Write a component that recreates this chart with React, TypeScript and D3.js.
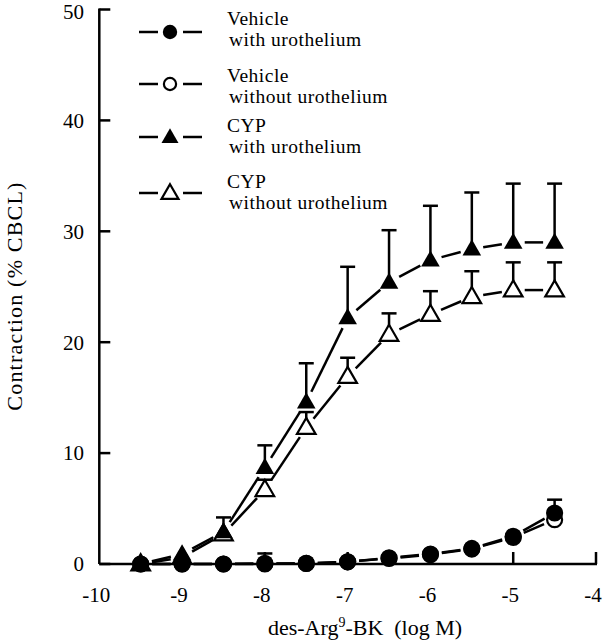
import React from 'react';
import * as d3 from 'd3';

// log concentration of des-Arg9-BK
const doses = [-9.5, -9, -8.5, -8, -7.5, -7, -6.5, -6, -5.5, -5, -4.5];

const vehWith = [0, 0, 0, 0.05, 0.05, 0.2, 0.55, 0.9, 1.4, 2.5, 4.6];
const vehWithSem = [0, 0, 0, 0.9, 0.1, 0.1, 0.2, 0.2, 0.3, 0.4, 1.2];
const vehWithout = [0, 0, 0, 0, 0.05, 0.2, 0.5, 0.85, 1.35, 2.4, 4.0];
const vehWithoutSem = [0, 0, 0, 0, 0, 0.1, 0.2, 0.2, 0.3, 0.4, 0.6];
const cypWith = [0, 0.9, 2.9, 8.7, 14.6, 22.2, 25.4, 27.4, 28.4, 29.0, 29.0];
const cypWithSem = [0.2, 0.3, 1.3, 2.0, 3.5, 4.6, 4.7, 4.9, 5.1, 5.3, 5.3];
const cypWithout = [0, 0.6, 2.7, 6.7, 12.3, 16.9, 20.7, 22.5, 24.1, 24.7, 24.7];
const cypWithoutSem = [0.1, 0.2, 0.8, 0.9, 1.4, 1.7, 1.9, 2.1, 2.3, 2.5, 2.5];

const yTicks = [0, 10, 20, 30, 40, 50];
const xTicks = [-10, -9, -8, -7, -6, -5, -4];

type Marker = 'circleFilled' | 'circleOpen' | 'triFilled' | 'triOpen';

const legendItems: { marker: Marker; line1: string; line2: string }[] = [
  { marker: 'circleFilled', line1: 'Vehicle', line2: 'with urothelium' },
  { marker: 'circleOpen', line1: 'Vehicle', line2: 'without urothelium' },
  { marker: 'triFilled', line1: 'CYP', line2: 'with urothelium' },
  { marker: 'triOpen', line1: 'CYP', line2: 'without urothelium' },
];

// draw order: open markers first so the filled ones sit on top
const series: { marker: Marker; values: number[]; sem: number[] }[] = [
  { marker: 'circleOpen', values: vehWithout, sem: vehWithoutSem },
  { marker: 'triOpen', values: cypWithout, sem: cypWithoutSem },
  { marker: 'circleFilled', values: vehWith, sem: vehWithSem },
  { marker: 'triFilled', values: cypWith, sem: cypWithSem },
];

const W = 603;
const H = 640;
const font = '"Liberation Serif", "Times New Roman", serif';
const SW = 2.5;

const x = d3.scaleLinear().domain([-10, -4]).range([99.3, 596]);
const y = d3.scaleLinear().domain([0, 50]).range([564, 9.5]);

const triPath = d3.symbol().type(d3.symbolTriangle).size(150)() as string;
const triPathSmall = d3.symbol().type(d3.symbolTriangle).size(125)() as string;

const MarkerGlyph: React.FC<{ type: Marker; cx: number; cy: number; small?: boolean }> = ({ type, cx, cy, small }) => {
  const r = small ? 7.2 : 8.6;
  if (type === 'circleFilled') return <circle cx={cx} cy={cy} r={r} fill="#000" />;
  if (type === 'circleOpen') return <circle cx={cx} cy={cy} r={r - 1.1} fill="#fff" stroke="#000" strokeWidth={2.2} />;
  const d = small ? triPathSmall : triPath;
  if (type === 'triFilled') return <path d={d} transform={`translate(${cx},${cy + 1})`} fill="#000" />;
  return <path d={d} transform={`translate(${cx},${cy + 1})`} fill="#fff" stroke="#000" strokeWidth={2.2} strokeLinejoin="miter" />;
};

const App: React.FC = () => {
  const gap = 11.5;

  const segments = (vals: number[]) => {
    const out: { x1: number; y1: number; x2: number; y2: number }[] = [];
    for (let i = 0; i < vals.length - 1; i++) {
      const ax = x(doses[i]), ay = y(vals[i]);
      const bx = x(doses[i + 1]), by = y(vals[i + 1]);
      const len = Math.hypot(bx - ax, by - ay);
      if (len <= gap * 2) continue;
      const ux = (bx - ax) / len, uy = (by - ay) / len;
      out.push({ x1: ax + ux * gap, y1: ay + uy * gap, x2: bx - ux * gap, y2: by - uy * gap });
    }
    return out;
  };

  return (
    <div style={{ position: 'absolute', left: 0, top: 0 }}>
      <svg width={W} height={H} style={{ display: 'block', background: '#fff' }} fontFamily={font}>
        {/* axes */}
        <line x1={x(-10)} x2={x(-10)} y1={y(50) - 1} y2={y(0)} stroke="#000" strokeWidth={SW} />
        <line x1={x(-10)} x2={x(-4) + 1} y1={y(0)} y2={y(0)} stroke="#000" strokeWidth={SW} />
        {yTicks.map(t => (
          <g key={`yt${t}`}>
            <line x1={x(-10)} x2={x(-10) + 11} y1={y(t)} y2={y(t)} stroke="#000" strokeWidth={SW} />
            <text x={84} y={Math.max(y(t), 12)} dy="0.35em" textAnchor="end" fontSize={21}>{t}</text>
          </g>
        ))}
        {xTicks.map(t => (
          <g key={`xt${t}`}>
            {t !== -10 && <line x1={x(t)} x2={x(t)} y1={y(0)} y2={y(0) - 12} stroke="#000" strokeWidth={SW} />}
            <text x={x(t) - 3} y={602} textAnchor="middle" fontSize={21}>{t}</text>
          </g>
        ))}
        <text x={365} y={635} textAnchor="middle" fontSize={22}>
          des-Arg<tspan fontSize={14} dy={-8}>9</tspan><tspan dy={8}>{'-BK\u00A0\u00A0(log M)'}</tspan>
        </text>
        <text transform="translate(22,296) rotate(-90)" textAnchor="middle" fontSize={22} letterSpacing={1.2}>
          Contraction (% CBCL)
        </text>

        {/* connecting lines */}
        {series.map((s, si) => (
          <g key={`ln${si}`}>
            {segments(s.values).map((g, i) => (
              <line key={i} x1={g.x1} y1={g.y1} x2={g.x2} y2={g.y2} stroke="#000" strokeWidth={SW} />
            ))}
          </g>
        ))}

        {/* error bars (upper only) */}
        {series.map((s, si) => (
          <g key={`eb${si}`}>
            {s.values.map((v, i) => {
              const top = y(v + s.sem[i]);
              const base = y(v) - 6;
              if (base - top < 3) return null;
              return (
                <g key={i}>
                  <line x1={x(doses[i])} x2={x(doses[i])} y1={base} y2={top} stroke="#000" strokeWidth={SW} />
                  <line x1={x(doses[i]) - 7.5} x2={x(doses[i]) + 7.5} y1={top} y2={top} stroke="#000" strokeWidth={SW} />
                </g>
              );
            })}
          </g>
        ))}

        {/* markers */}
        {series.map((s, si) => (
          <g key={`mk${si}`}>
            {s.values.map((v, i) => (
              <MarkerGlyph key={i} type={s.marker} cx={x(doses[i])} cy={y(v)} />
            ))}
          </g>
        ))}

        {/* legend */}
        {legendItems.map((it, i) => {
          const rowY = [32, 84, 137, 193][i];
          const textY = [25, 82, 132, 188][i];
          return (
            <g key={`lg${i}`}>
              <line x1={139} x2={158} y1={rowY} y2={rowY} stroke="#000" strokeWidth={SW} />
              <line x1={183} x2={202} y1={rowY} y2={rowY} stroke="#000" strokeWidth={SW} />
              <MarkerGlyph type={it.marker} cx={170} cy={rowY} small />
              <text x={227} y={textY} fontSize={19.5} letterSpacing={0.5}>{it.line1}</text>
              <text x={229} y={textY + 21} fontSize={19.5} letterSpacing={0.5}>{it.line2}</text>
            </g>
          );
        })}
      </svg>
    </div>
  );
};

export default App;
